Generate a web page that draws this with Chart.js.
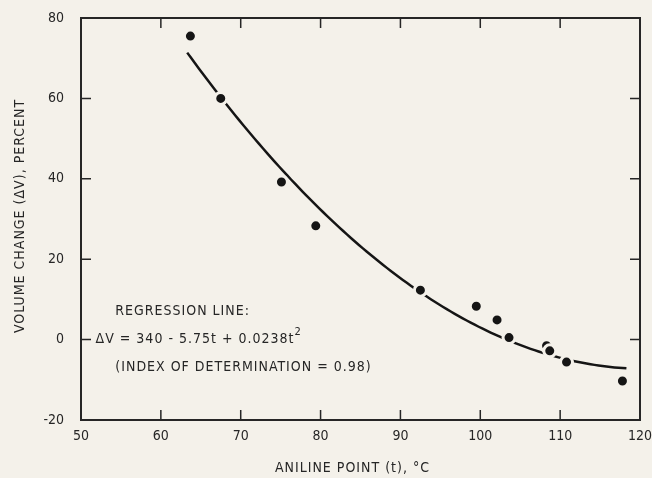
<!DOCTYPE html>
<html>
<head>
<meta charset="utf-8">
<script src="https://cdn.jsdelivr.net/npm/chart.js@4.4.1/dist/chart.umd.min.js"></script>
<style>
    html, body { margin: 0; padding: 0; background: #f4f1ea; }
    #contenedor { width: 652px; height: 478px; }
</style>
</head>
<body>
<div id="contenedor"><canvas id="graficoAnilina"></canvas></div>
<script>
// Puntos medidos: punto de anilina (°C) y cambio de volumen (%)
const puntoAnilina = [63.7, 67.5, 75.1, 79.4, 92.5, 99.5, 102.1, 103.6, 108.3, 108.7, 110.8, 117.8];
const cambioVolumen = [75.5, 60.0, 39.2, 28.3, 12.3, 8.3, 4.9, 0.5, -1.5, -2.8, -5.6, -10.3];

// Línea de regresión: ΔV = 340 - 5.75t + 0.0238t²
const coefA = 340;
const coefB = -5.75;
const coefC = 0.0238;
const tramoCurva = [63.3, 118.3];

// Marcas de los ejes
const ticksX = [50, 60, 70, 80, 90, 100, 110, 120];
const ticksY = [-20, 0, 20, 40, 60, 80];

const tituloX = 'ANILINE POINT (t), °C';
const tituloY = 'VOLUME CHANGE (ΔV), PERCENT';

const FUENTE = '"DejaVu Sans Condensed", "Liberation Sans Narrow", sans-serif';
const TINTA = '#262626';
const FONDO = '#f4f1ea';

const curva = [];
for (let t = tramoCurva[0]; t <= tramoCurva[1] + 1e-9; t += 0.5) {
    curva.push({ x: t, y: coefA + coefB * t + coefC * t * t });
}

// Marco cerrado con marcas hacia adentro, títulos de ejes y texto de la regresión
const marco = {
    id: 'marco',
    afterDraw(chart) {
        const { ctx, chartArea: a, scales: { x, y } } = chart;
        ctx.save();
        ctx.strokeStyle = TINTA;
        ctx.lineWidth = 2;
        ctx.strokeRect(a.left, a.top, a.right - a.left, a.bottom - a.top);
        const largo = 10;
        ctx.lineWidth = 1.5;
        ctx.beginPath();
        ticksX.slice(1, -1).forEach(v => {
            const px = x.getPixelForValue(v);
            ctx.moveTo(px, a.bottom); ctx.lineTo(px, a.bottom - largo);
            ctx.moveTo(px, a.top); ctx.lineTo(px, a.top + largo);
        });
        ticksY.slice(1, -1).forEach(v => {
            const py = y.getPixelForValue(v);
            ctx.moveTo(a.left, py); ctx.lineTo(a.left + largo, py);
            ctx.moveTo(a.right, py); ctx.lineTo(a.right - largo, py);
        });
        ctx.stroke();

        ctx.fillStyle = TINTA;
        ctx.textBaseline = 'middle';
        ctx.letterSpacing = '1px';

        // Títulos de los ejes
        ctx.font = '14px ' + FUENTE;
        ctx.textAlign = 'center';
        ctx.fillText(tituloX, (a.left + a.right) / 2 - 8, 468);
        ctx.save();
        ctx.translate(20, (a.top + a.bottom) / 2 - 3);
        ctx.rotate(-Math.PI / 2);
        ctx.fillText(tituloY, 0, 0);
        ctx.restore();

        // Texto de la ecuación
        ctx.textAlign = 'left';
        const x0 = x.getPixelForValue(51.7);
        ctx.fillText('REGRESSION LINE:', x.getPixelForValue(54.3), y.getPixelForValue(7));
        const linea2 = 'ΔV = 340 - 5.75t + 0.0238t';
        const y2 = y.getPixelForValue(0);
        ctx.fillText(linea2, x0 + 1, y2);
        const ancho = ctx.measureText(linea2).width;
        ctx.font = '11px ' + FUENTE;
        ctx.fillText('2', x0 + 1 + ancho, y2 - 7);
        ctx.font = '14px ' + FUENTE;
        ctx.fillText('(INDEX OF DETERMINATION = 0.98)', x.getPixelForValue(54.3), y.getPixelForValue(-7));
        ctx.restore();
    }
};

new Chart(document.getElementById('graficoAnilina').getContext('2d'), {
    type: 'scatter',
    data: {
        datasets: [
            {
                label: 'Medidos',
                data: puntoAnilina.map((t, i) => ({ x: t, y: cambioVolumen[i] })),
                backgroundColor: '#151515',
                borderColor: FONDO,
                borderWidth: 3,
                pointRadius: 6,
                pointHoverRadius: 6
            },
            {
                label: 'Regresión',
                type: 'line',
                data: curva,
                borderColor: '#151515',
                borderWidth: 2.5,
                pointRadius: 0,
                tension: 0,
                fill: false
            }
        ]
    },
    options: {
        responsive: true,
        maintainAspectRatio: false,
        animation: false,
        layout: { padding: { top: 18, right: 12, left: 0, bottom: 0 } },
        plugins: { legend: { display: false }, tooltip: { enabled: false } },
        scales: {
            x: {
                type: 'linear',
                min: 50, max: 120,
                afterBuildTicks: s => { s.ticks = ticksX.map(v => ({ value: v })); },
                afterFit: s => { s.height = 58; s.paddingLeft = 0; s.paddingRight = 0; },
                grid: { display: false, drawTicks: false },
                border: { display: false },
                ticks: { color: TINTA, padding: 8, font: { family: FUENTE, size: 14 } }
            },
            y: {
                type: 'linear',
                min: -20, max: 80,
                afterBuildTicks: s => { s.ticks = ticksY.map(v => ({ value: v })); },
                afterFit: s => { s.width = 81; s.paddingTop = 0; s.paddingBottom = 0; },
                grid: { display: false, drawTicks: false },
                border: { display: false },
                ticks: { color: TINTA, padding: 17, font: { family: FUENTE, size: 14 } }
            }
        }
    },
    plugins: [marco]
});
</script>
</body>
</html>
